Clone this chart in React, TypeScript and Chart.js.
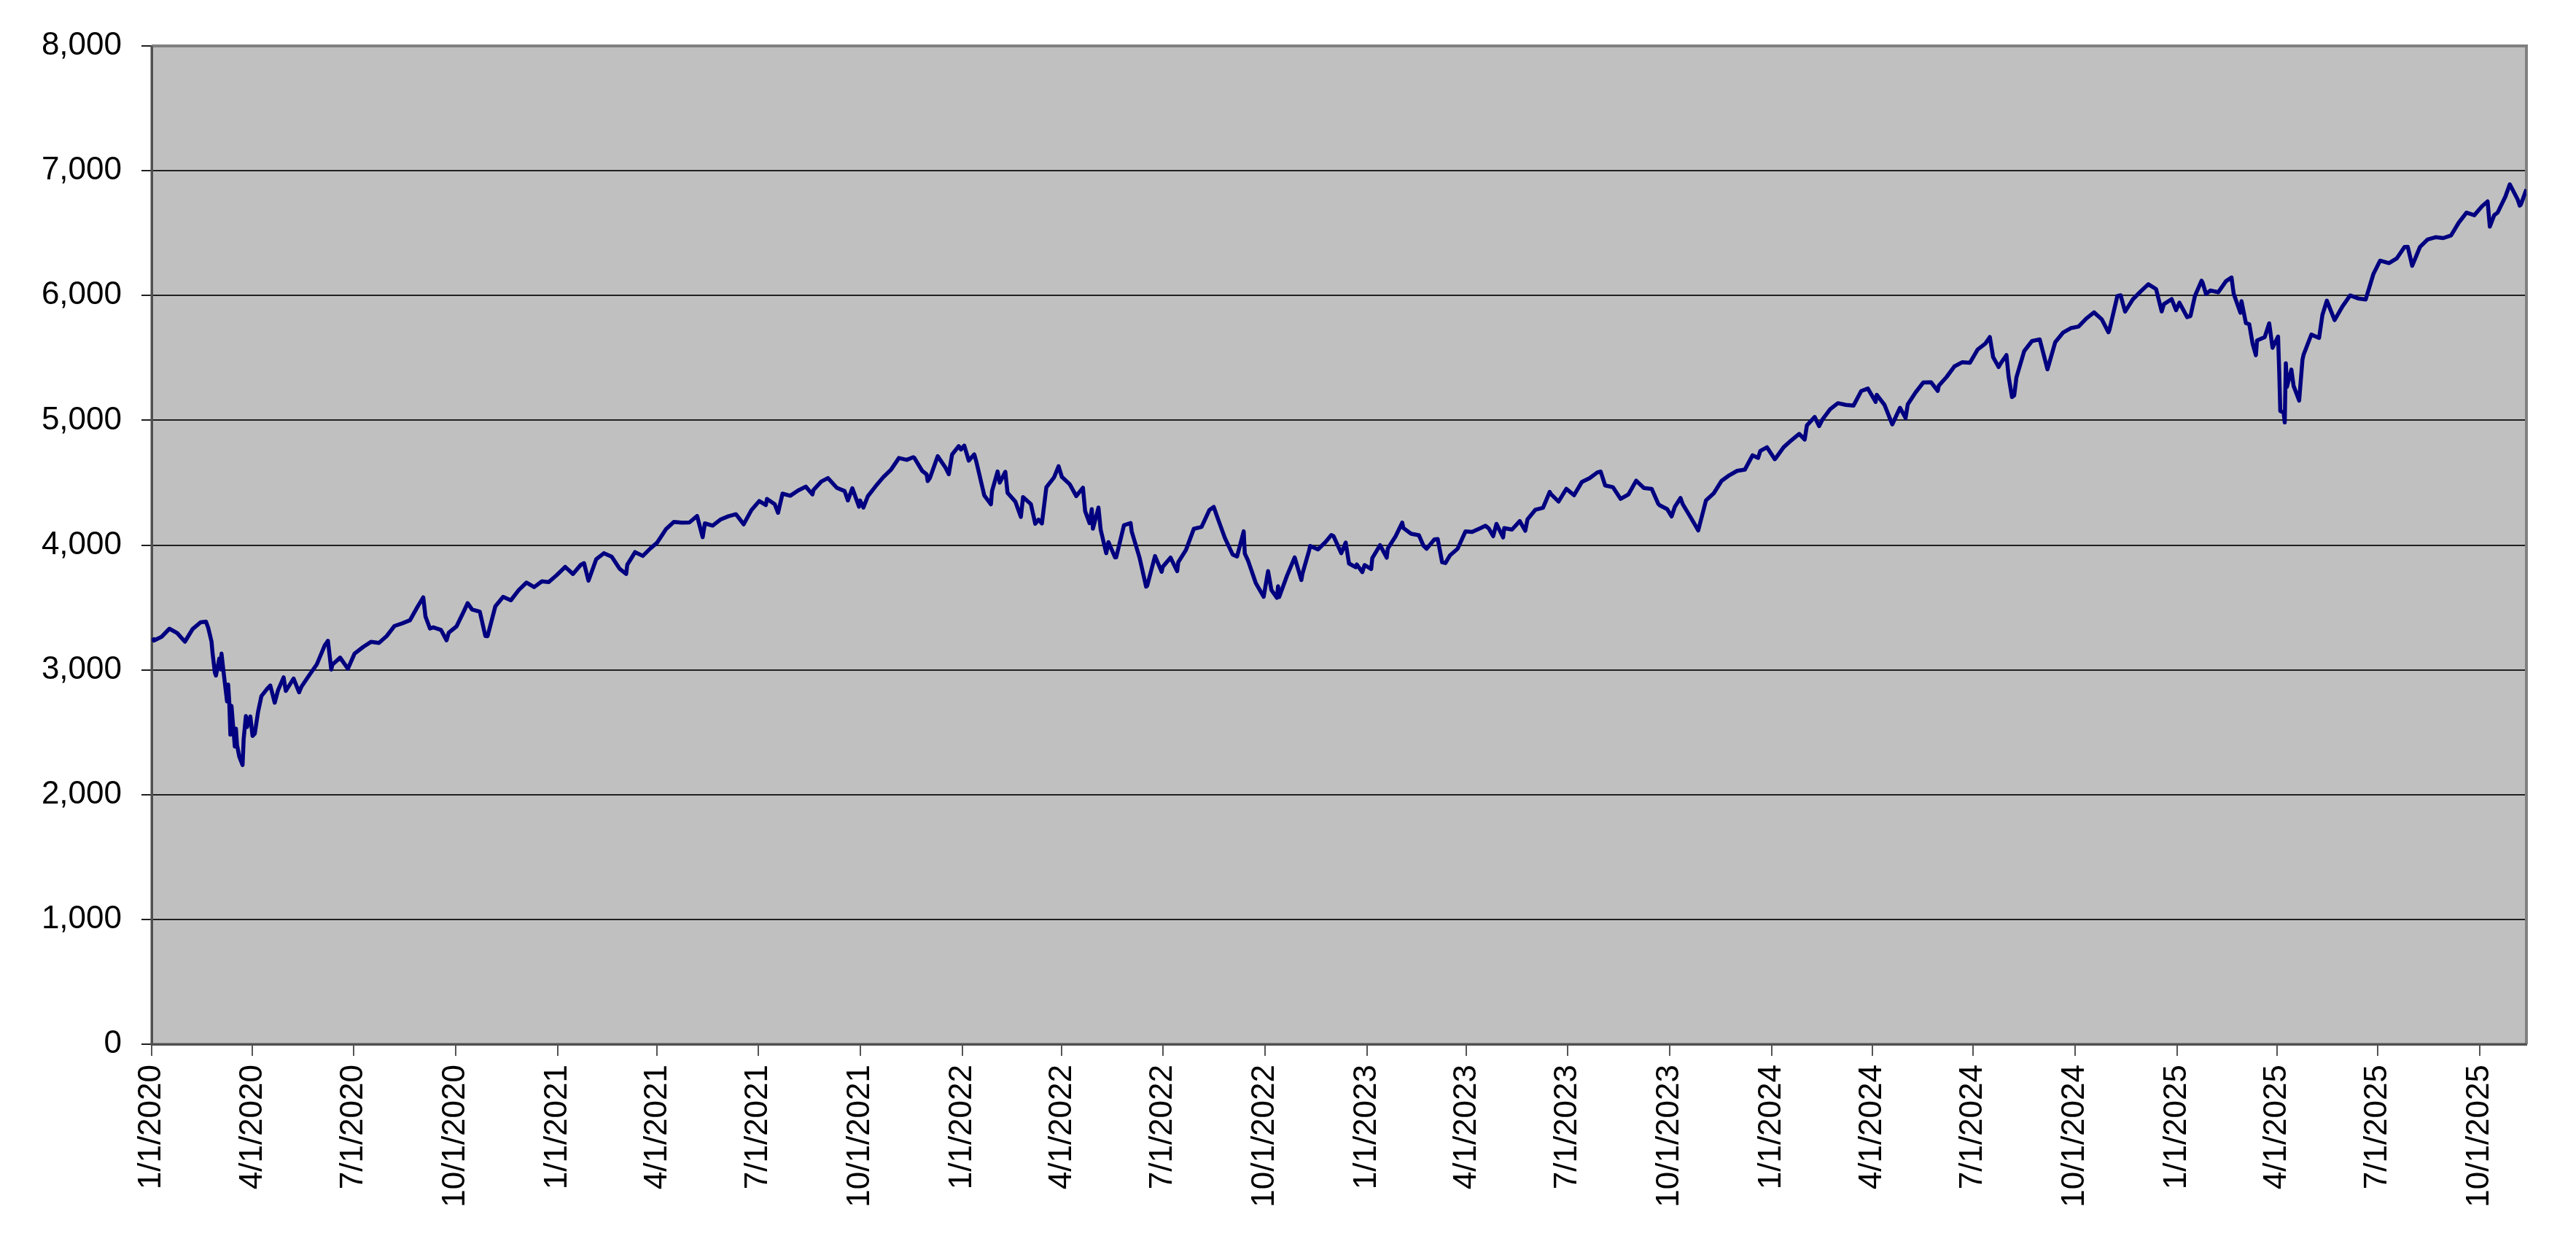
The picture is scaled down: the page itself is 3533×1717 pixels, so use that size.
import { useEffect, useRef } from 'react';
import { Chart, registerables } from 'chart.js';

Chart.register(...registerables);

// S&P 500 closes (weekly, plus the sharp daily swings)
const dates2020 = ['2020-01-02','2020-01-03','2020-01-10','2020-01-17','2020-01-24','2020-01-31','2020-02-07','2020-02-14','2020-02-19','2020-02-21','2020-02-24','2020-02-25','2020-02-27','2020-02-28','2020-03-02','2020-03-03','2020-03-04','2020-03-06','2020-03-09','2020-03-10','2020-03-11','2020-03-12','2020-03-13','2020-03-16','2020-03-17','2020-03-18','2020-03-20','2020-03-23','2020-03-24','2020-03-26','2020-03-27','2020-03-30','2020-04-01','2020-04-03','2020-04-06','2020-04-09','2020-04-14','2020-04-17','2020-04-21','2020-04-24','2020-04-29','2020-05-01','2020-05-08','2020-05-13','2020-05-15','2020-05-22','2020-05-29','2020-06-05','2020-06-08','2020-06-11','2020-06-12','2020-06-19','2020-06-26','2020-07-02','2020-07-10','2020-07-17','2020-07-24','2020-07-31','2020-08-07','2020-08-14','2020-08-21','2020-08-28','2020-09-02','2020-09-04','2020-09-08','2020-09-11','2020-09-18','2020-09-23','2020-09-25','2020-10-02','2020-10-09','2020-10-12','2020-10-16','2020-10-23','2020-10-28','2020-10-30','2020-11-06','2020-11-13','2020-11-20','2020-11-27','2020-12-04','2020-12-11','2020-12-18','2020-12-24','2020-12-31'];
const close2020 = [3257.85,3234.85,3265.35,3329.62,3295.47,3225.52,3327.71,3380.16,3386.15,3337.75,3225.89,3128.21,2978.76,2954.22,3090.23,3003.37,3130.12,2972.37,2746.56,2882.23,2741.38,2480.64,2711.02,2386.13,2529.19,2398.1,2304.92,2237.4,2447.33,2630.07,2541.47,2626.65,2470.5,2488.65,2663.68,2789.82,2846.06,2874.56,2736.56,2836.74,2939.51,2830.71,2929.8,2820.0,2863.7,2955.45,3044.31,3193.93,3232.39,3002.1,3041.31,3097.74,3009.05,3130.01,3185.04,3224.73,3215.63,3271.12,3351.28,3372.85,3397.16,3508.01,3580.84,3426.96,3331.84,3340.97,3319.47,3236.92,3298.46,3348.42,3477.14,3534.22,3483.81,3465.39,3271.03,3269.96,3509.44,3585.15,3557.54,3638.35,3699.12,3663.46,3709.41,3703.06,3756.07];

const dates2021 = ['2021-01-08','2021-01-15','2021-01-22','2021-01-25','2021-01-29','2021-02-05','2021-02-12','2021-02-19','2021-02-26','2021-03-04','2021-03-05','2021-03-12','2021-03-19','2021-03-26','2021-04-01','2021-04-09','2021-04-16','2021-04-23','2021-04-30','2021-05-07','2021-05-12','2021-05-14','2021-05-21','2021-05-28','2021-06-04','2021-06-11','2021-06-18','2021-06-25','2021-07-02','2021-07-08','2021-07-09','2021-07-16','2021-07-19','2021-07-23','2021-07-30','2021-08-06','2021-08-13','2021-08-19','2021-08-20','2021-08-27','2021-09-02','2021-09-10','2021-09-17','2021-09-20','2021-09-24','2021-09-30','2021-10-01','2021-10-04','2021-10-08','2021-10-15','2021-10-22','2021-10-29','2021-11-05','2021-11-12','2021-11-18','2021-11-19','2021-11-26','2021-11-30','2021-12-01','2021-12-03','2021-12-10','2021-12-17','2021-12-20','2021-12-23','2021-12-29','2021-12-31'];
const close2021 = [3824.68,3768.25,3841.47,3855.36,3714.24,3886.83,3934.83,3906.71,3811.15,3768.47,3841.94,3943.34,3913.1,3974.54,4019.87,4128.8,4185.47,4180.17,4181.17,4232.6,4063.04,4173.85,4155.86,4204.11,4229.89,4247.44,4166.45,4280.7,4352.34,4320.82,4369.55,4327.16,4258.49,4411.79,4395.26,4436.52,4468.0,4405.8,4441.67,4509.37,4536.95,4458.58,4432.99,4357.73,4455.48,4307.54,4357.04,4300.46,4391.34,4471.37,4544.9,4605.38,4697.53,4682.85,4704.54,4697.96,4594.62,4567.0,4513.04,4538.43,4712.02,4620.64,4568.02,4725.79,4793.06,4766.18];

const dates2022 = ['2022-01-03','2022-01-07','2022-01-12','2022-01-14','2022-01-21','2022-01-27','2022-01-28','2022-02-02','2022-02-04','2022-02-09','2022-02-11','2022-02-18','2022-02-23','2022-02-25','2022-03-04','2022-03-08','2022-03-11','2022-03-14','2022-03-18','2022-03-25','2022-03-29','2022-04-01','2022-04-08','2022-04-14','2022-04-20','2022-04-22','2022-04-26','2022-04-28','2022-04-29','2022-05-04','2022-05-06','2022-05-11','2022-05-13','2022-05-19','2022-05-20','2022-05-27','2022-06-02','2022-06-03','2022-06-10','2022-06-16','2022-06-17','2022-06-24','2022-06-30','2022-07-01','2022-07-08','2022-07-14','2022-07-15','2022-07-22','2022-07-29','2022-08-05','2022-08-12','2022-08-16','2022-08-19','2022-08-26','2022-09-02','2022-09-06','2022-09-12','2022-09-13','2022-09-16','2022-09-23','2022-09-30','2022-10-04','2022-10-07','2022-10-12','2022-10-13','2022-10-14','2022-10-21','2022-10-28','2022-11-03','2022-11-04','2022-11-10','2022-11-11','2022-11-18','2022-11-25','2022-11-30','2022-12-02','2022-12-09','2022-12-13','2022-12-16','2022-12-22','2022-12-23','2022-12-28','2022-12-30'];
const close2022 = [4796.56,4677.03,4726.35,4662.85,4397.94,4326.51,4431.85,4589.38,4500.53,4587.18,4418.64,4348.87,4225.5,4384.65,4328.87,4170.7,4204.31,4173.11,4463.12,4543.06,4631.6,4545.86,4488.28,4392.59,4459.45,4271.78,4175.2,4287.5,4131.93,4300.17,4123.34,3935.18,4023.89,3900.79,3901.36,4158.24,4176.82,4108.54,3900.86,3666.77,3674.84,3911.74,3785.38,3825.33,3899.38,3790.38,3863.16,3961.63,4130.29,4145.19,4280.15,4305.2,4228.48,4057.66,3924.26,3908.19,4110.41,3932.69,3873.33,3693.23,3585.62,3790.93,3639.66,3577.03,3669.91,3583.07,3752.75,3901.06,3719.89,3770.55,3956.37,3992.93,3965.34,4026.12,4080.11,4071.7,3934.38,4019.65,3852.36,3822.39,3844.82,3783.22,3839.5];

const dates2023 = ['2023-01-05','2023-01-06','2023-01-13','2023-01-19','2023-01-20','2023-01-27','2023-02-02','2023-02-03','2023-02-10','2023-02-17','2023-02-21','2023-02-24','2023-03-03','2023-03-06','2023-03-10','2023-03-13','2023-03-17','2023-03-24','2023-03-31','2023-04-06','2023-04-14','2023-04-18','2023-04-21','2023-04-25','2023-04-28','2023-05-04','2023-05-05','2023-05-12','2023-05-19','2023-05-24','2023-05-26','2023-06-02','2023-06-09','2023-06-15','2023-06-16','2023-06-23','2023-06-30','2023-07-07','2023-07-14','2023-07-21','2023-07-28','2023-07-31','2023-08-04','2023-08-11','2023-08-18','2023-08-25','2023-09-01','2023-09-08','2023-09-15','2023-09-21','2023-09-22','2023-09-29','2023-10-03','2023-10-06','2023-10-11','2023-10-13','2023-10-20','2023-10-27','2023-11-03','2023-11-10','2023-11-17','2023-11-24','2023-12-01','2023-12-08','2023-12-15','2023-12-20','2023-12-22','2023-12-28','2023-12-29'];
const close2023 = [3808.1,3895.08,3999.09,3898.85,3972.61,4070.56,4179.76,4136.48,4090.46,4079.09,3997.34,3970.04,4045.64,4048.42,3861.59,3855.76,3916.64,3970.99,4109.31,4105.02,4137.64,4154.87,4133.52,4071.63,4169.48,4061.22,4136.25,4124.08,4191.98,4115.24,4205.45,4282.37,4298.86,4425.84,4409.59,4348.33,4450.38,4398.95,4505.42,4536.34,4582.23,4588.96,4478.03,4464.05,4369.71,4405.71,4515.77,4457.49,4450.32,4330.0,4320.06,4288.05,4229.45,4308.5,4376.95,4327.78,4224.16,4117.37,4358.34,4415.24,4514.02,4559.34,4594.63,4604.37,4719.19,4698.35,4754.63,4783.35,4769.83];

const dates2024 = ['2024-01-04','2024-01-05','2024-01-12','2024-01-19','2024-01-26','2024-01-31','2024-02-02','2024-02-09','2024-02-13','2024-02-16','2024-02-23','2024-03-01','2024-03-08','2024-03-15','2024-03-22','2024-03-28','2024-04-04','2024-04-05','2024-04-12','2024-04-19','2024-04-26','2024-05-01','2024-05-03','2024-05-10','2024-05-17','2024-05-24','2024-05-30','2024-05-31','2024-06-07','2024-06-14','2024-06-21','2024-06-28','2024-07-05','2024-07-12','2024-07-16','2024-07-19','2024-07-24','2024-07-26','2024-07-31','2024-08-02','2024-08-05','2024-08-07','2024-08-09','2024-08-16','2024-08-23','2024-08-30','2024-09-06','2024-09-13','2024-09-20','2024-09-27','2024-10-04','2024-10-11','2024-10-18','2024-10-25','2024-10-31','2024-11-01','2024-11-08','2024-11-11','2024-11-15','2024-11-22','2024-11-29','2024-12-06','2024-12-13','2024-12-18','2024-12-20','2024-12-27','2024-12-31'];
const close2024 = [4688.68,4697.24,4783.83,4839.81,4890.97,4845.65,4958.61,5026.61,4953.17,5005.57,5088.8,5137.08,5123.69,5117.09,5234.18,5254.35,5147.21,5204.34,5123.41,4967.23,5099.96,5018.39,5127.79,5222.68,5303.27,5304.72,5235.48,5277.51,5346.99,5431.6,5464.62,5460.48,5567.19,5615.35,5667.2,5505.0,5427.13,5459.1,5522.3,5346.56,5186.33,5199.5,5344.16,5554.25,5634.61,5648.4,5408.42,5626.02,5702.55,5738.17,5751.07,5815.03,5864.67,5808.12,5705.45,5728.8,5995.54,6001.35,5870.62,5969.34,6032.38,6090.27,6051.09,5872.16,5930.85,5970.84,5881.63];

const dates2025 = ['2025-01-03','2025-01-10','2025-01-13','2025-01-17','2025-01-23','2025-01-24','2025-01-27','2025-01-31','2025-02-07','2025-02-14','2025-02-19','2025-02-21','2025-02-27','2025-02-28','2025-03-04','2025-03-07','2025-03-10','2025-03-13','2025-03-14','2025-03-21','2025-03-25','2025-03-28','2025-04-02','2025-04-03','2025-04-04','2025-04-07','2025-04-08','2025-04-09','2025-04-10','2025-04-14','2025-04-16','2025-04-21','2025-04-24','2025-04-25','2025-05-02','2025-05-09','2025-05-12','2025-05-16','2025-05-23','2025-05-30','2025-06-06','2025-06-13','2025-06-20','2025-06-27','2025-07-03','2025-07-11','2025-07-18','2025-07-25','2025-07-28','2025-08-01','2025-08-08','2025-08-15','2025-08-22','2025-08-29','2025-09-05','2025-09-12','2025-09-19','2025-09-26','2025-10-03','2025-10-08','2025-10-10','2025-10-14','2025-10-17','2025-10-24','2025-10-28','2025-10-31','2025-11-04','2025-11-06','2025-11-07','2025-11-12'];
const close2025 = [5942.47,5827.04,5836.22,5996.66,6118.71,6101.24,6012.28,6040.53,6025.99,6114.63,6144.15,6013.13,5861.57,5954.5,5778.15,5770.2,5614.56,5521.52,5638.94,5667.56,5776.65,5580.94,5670.97,5396.52,5074.08,5062.25,4982.77,5456.9,5268.05,5405.97,5275.7,5158.2,5484.77,5525.21,5686.67,5659.91,5844.19,5958.38,5802.82,5911.69,6000.36,5976.97,5967.84,6173.07,6279.35,6259.75,6296.79,6388.64,6389.77,6238.01,6389.45,6449.8,6466.91,6460.26,6481.5,6584.29,6664.36,6643.7,6715.79,6753.72,6552.51,6644.31,6664.01,6791.69,6890.89,6840.2,6771.55,6720.32,6728.8,6850.92];

const tickLabels = ['1/1/2020','4/1/2020','7/1/2020','10/1/2020','1/1/2021','4/1/2021','7/1/2021','10/1/2021','1/1/2022','4/1/2022','7/1/2022','10/1/2022','1/1/2023','4/1/2023','7/1/2023','10/1/2023','1/1/2024','4/1/2024','7/1/2024','10/1/2024','1/1/2025','4/1/2025','7/1/2025','10/1/2025'];

const W = 3533;
const H = 1717;
const FONT = '"Liberation Sans", Arial, sans-serif';
const ORIGIN = Date.UTC(2020, 0, 1);

const dayFromIso = (s: string) => {
    const [y, m, d] = s.split('-').map(Number);
    return (Date.UTC(y, m - 1, d) - ORIGIN) / 86400000;
};
const dayFromUs = (s: string) => {
    const [m, d, y] = s.split('/').map(Number);
    return (Date.UTC(y, m - 1, d) - ORIGIN) / 86400000;
};

const allDates = [...dates2020, ...dates2021, ...dates2022, ...dates2023, ...dates2024, ...dates2025];
const allClose = [...close2020, ...close2021, ...close2022, ...close2023, ...close2024, ...close2025];
const tickDays = tickLabels.map(dayFromUs);

const plotFrame = {
    id: 'plotFrame',
    beforeDraw(chart: Chart) {
        const { ctx, chartArea: a } = chart;
        ctx.save();
        ctx.fillStyle = '#c0c0c0';
        ctx.fillRect(a.left, a.top, a.right - a.left, a.bottom - a.top);
        ctx.restore();
    },
    beforeDatasetsDraw(chart: Chart) {
        const { ctx, chartArea: a } = chart;
        ctx.save();
        ctx.strokeStyle = '#808080';
        ctx.lineWidth = 4;
        ctx.beginPath();
        ctx.moveTo(a.left, a.top);
        ctx.lineTo(a.right, a.top);
        ctx.lineTo(a.right, a.bottom);
        ctx.stroke();
        ctx.strokeStyle = '#505050';
        ctx.lineWidth = 3;
        ctx.beginPath();
        ctx.moveTo(a.left, a.top);
        ctx.lineTo(a.left, a.bottom);
        ctx.lineTo(a.right, a.bottom);
        ctx.stroke();
        ctx.restore();
    },
};

export default function App() {
    const canvasRef = useRef<HTMLCanvasElement | null>(null);

    useEffect(() => {
        if (!canvasRef.current) return;
        const points = allDates.map((d, i) => ({ x: dayFromIso(d), y: allClose[i] }));
        const lastDay = points[points.length - 1].x;

        const chart = new Chart(canvasRef.current, {
            type: 'line',
            data: {
                datasets: [
                    {
                        data: points,
                        borderColor: '#000080',
                        borderWidth: 5.5,
                        borderJoinStyle: 'round',
                        pointRadius: 0,
                        tension: 0,
                        fill: false,
                    },
                ],
            },
            options: {
                responsive: false,
                animation: false,
                devicePixelRatio: 1,
                layout: { padding: { top: 63, right: 68, left: 0, bottom: 0 } },
                plugins: { legend: { display: false }, tooltip: { enabled: false } },
                scales: {
                    x: {
                        type: 'linear',
                        min: 0,
                        max: lastDay,
                        afterBuildTicks: (axis: any) => {
                            axis.ticks = tickDays.map((v) => ({ value: v }));
                        },
                        afterFit: (axis: any) => {
                            axis.height = H - 1432;
                        },
                        ticks: {
                            autoSkip: false,
                            maxRotation: 90,
                            minRotation: 90,
                            padding: 12,
                            color: '#000',
                            font: { family: FONT, size: 44 },
                            callback: (v: any) => {
                                const i = tickDays.indexOf(Number(v));
                                return i >= 0 ? tickLabels[i] : '';
                            },
                        },
                        grid: {
                            drawOnChartArea: false,
                            drawTicks: true,
                            tickLength: 16,
                            color: '#555',
                            lineWidth: 2,
                        },
                        border: { display: true, color: '#505050', width: 3 },
                    },
                    y: {
                        min: 0,
                        max: 8000,
                        afterFit: (axis: any) => {
                            axis.width = 208;
                        },
                        ticks: {
                            stepSize: 1000,
                            padding: 27,
                            color: '#000',
                            font: { family: FONT, size: 44 },
                            callback: (v: any) => Number(v).toLocaleString('en-US'),
                        },
                        grid: {
                            color: '#202020',
                            lineWidth: 2,
                            drawTicks: true,
                            tickLength: 14,
                        },
                        border: { display: true, color: '#505050', width: 3 },
                    },
                },
            },
            plugins: [plotFrame],
        });

        return () => chart.destroy();
    }, []);

    return (
        <div style={{ position: 'fixed', left: 0, top: 0, width: W, height: H, background: '#fff' }}>
            <canvas ref={canvasRef} width={W} height={H} style={{ width: W, height: H }} />
        </div>
    );
}
